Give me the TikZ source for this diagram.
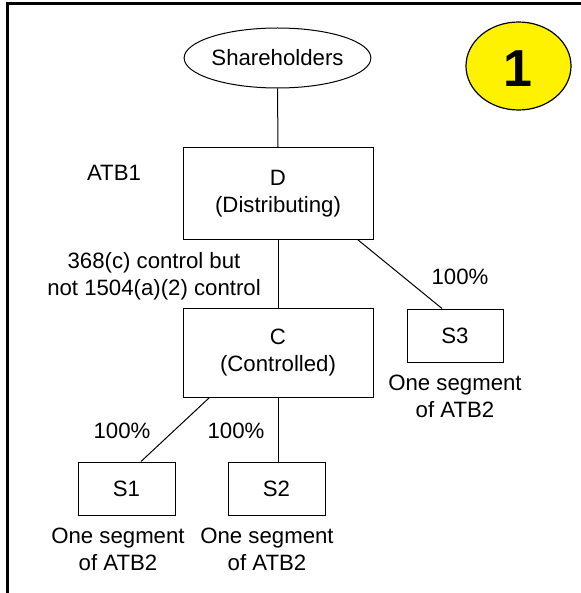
\documentclass[tikz,border=0pt]{standalone}
\usepackage{fontspec}
\setmainfont{Liberation Sans}
\usetikzlibrary{shapes.geometric}
\begin{document}
\begin{tikzpicture}[x=0.5pt,y=-0.5pt,
  every node/.style={font=\fontsize{11.1}{13.5}\selectfont, align=center, inner sep=0pt},
  box/.style={draw, line width=0.5pt, rectangle},
  conn/.style={draw, line width=0.5pt},
  frame/.style={line width=1.5pt}]
\useasboundingbox (0,0) rectangle (581,593);
% frame (partial, top and left)
\coordinate (ftl) at (7,4);
\coordinate (ftr) at (581,4);
\coordinate (fbl) at (7,593);
\draw[frame, line cap=rect] (ftr) -- (ftl) -- (fbl);
% badge
\node[draw, ellipse, fill=yellow, line width=0.6pt, minimum width=52.5pt, minimum height=44pt] (badge) at (518.5,66) {};
\node[font=\fontsize{26}{30}\selectfont\bfseries] (one) at (518,69) {1};
% nodes
\node[draw, ellipse, line width=0.5pt, minimum width=89.5pt, minimum height=30pt] (sh) at (277.5,58) {Shareholders};
\node[box, minimum width=95pt, minimum height=45.5pt] (D) at (278,193.5) {D\\(Distributing)};
\node[box, minimum width=95pt, minimum height=44.5pt] (C) at (278,352.5) {C\\(Controlled)};
\node[box, minimum width=48pt, minimum height=26.5pt] (S3) at (455,335.5) {S3};
\node[box, minimum width=48.5pt, minimum height=26.5pt] (S1) at (126.5,488.5) {S1};
\node[box, minimum width=48.5pt, minimum height=26.5pt] (S2) at (276.5,488.5) {S2};
% labels
\node (atb1) at (114,173) {ATB1};
\node (ctl) at (154,276) {368(c) control but\\not 1504(a)(2) control};
\node (p3) at (460,277) {100\%};
\node (p1) at (122,431) {100\%};
\node (p2) at (236,431) {100\%};
\node (t3) at (455,396) {One segment\\of ATB2};
\node (t1) at (118,549) {One segment\\of ATB2};
\node (t2) at (267,549) {One segment\\of ATB2};
% connectors
\draw[conn] (sh.south) -- (D.north);
\draw[conn] (D.south) -- (C.north);
\draw[conn] ([xshift=-8pt]D.south east) -- ([xshift=-6.5pt]S3.north);
\draw[conn] ([xshift=13.5pt]C.south west) -- ([xshift=7.25pt]S1.north);
\draw[conn] (C.south) -- (C.south |- S2.north);
\end{tikzpicture}
\end{document}
